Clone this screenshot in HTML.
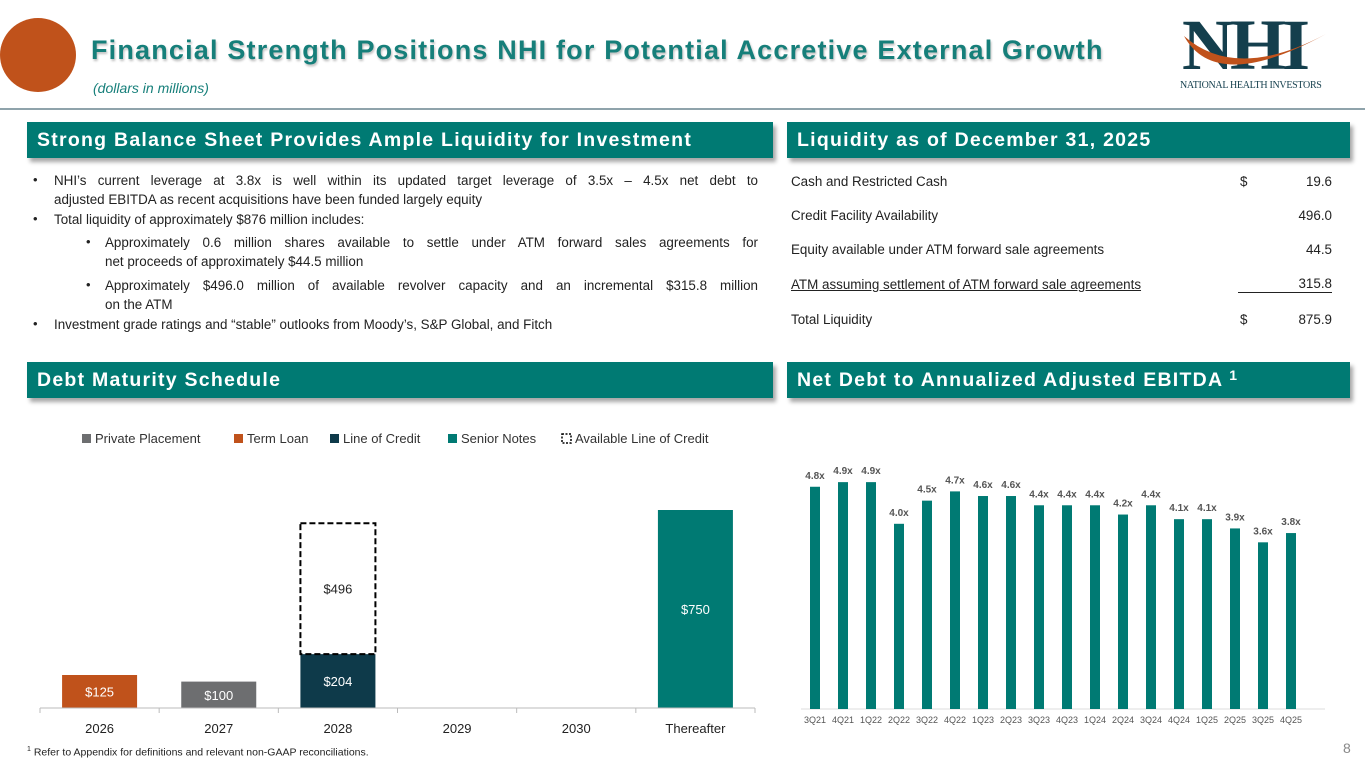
<!DOCTYPE html>
<html><head><meta charset="utf-8"><style>
*{margin:0;padding:0;box-sizing:border-box}
body{width:1365px;height:768px;background:#fff;font-family:"Liberation Sans",sans-serif;position:relative;overflow:hidden;color:#222}
.abs{position:absolute}
.hdr{position:absolute;background:#007a73;color:#fff;font-weight:bold;font-size:19.5px;padding-left:10px;line-height:36px;height:36px;box-shadow:3px 4px 4px rgba(0,0,0,.35);letter-spacing:1.25px;white-space:nowrap}
.ln{position:absolute;font-size:13.4px;white-space:nowrap;line-height:18px}
.j{text-align:justify;text-align-last:justify;white-space:normal}
.bul{position:absolute;font-size:13px}
.row{position:absolute;font-size:13.4px;line-height:18px}
</style></head><body>
<div class="abs" style="left:0;top:18px;width:76px;height:74px;border-radius:50%;background:#c0521b"></div>
<div class="abs" style="left:91px;top:35px;font-size:27px;font-weight:bold;color:#167f7a;letter-spacing:1.18px;text-shadow:1px 2px 2px rgba(0,0,0,.25);white-space:nowrap">Financial Strength Positions NHI for Potential Accretive External Growth</div>
<div class="abs" style="left:93px;top:80px;font-size:14px;font-style:italic;color:#167f7a">(dollars in millions)</div>
<div class="abs" style="left:1176px;top:14px;width:180px;height:80px">
 <div style="position:absolute;left:6px;top:-4px;font-family:'Liberation Serif',serif;font-size:72px;font-weight:bold;color:#143f4d;letter-spacing:-4px;line-height:70px">NHI</div>
 <svg style="position:absolute;left:0;top:10px" width="180" height="60"><path d="M8 12 Q40 70 150 10 Q60 58 8 12Z" fill="#c0521b"/></svg>
 <div style="position:absolute;left:4px;top:66px;font-family:'Liberation Serif',serif;font-size:10px;color:#143f4d;white-space:nowrap;letter-spacing:-0.3px">NATIONAL HEALTH INVESTORS</div>
</div>
<div class="abs" style="left:0;top:108px;width:1365px;height:2px;background:#8fa3ab"></div>

<div class="hdr" style="left:27px;top:122px;width:746px">Strong Balance Sheet Provides Ample Liquidity for Investment</div>
<div class="hdr" style="left:787px;top:122px;width:563px">Liquidity as of December 31, 2025</div>
<div class="hdr" style="left:27px;top:362px;width:746px">Debt Maturity Schedule</div>
<div class="hdr" style="left:787px;top:362px;width:563px">Net Debt to Annualized Adjusted EBITDA <span style="font-size:14px;position:relative;top:-6px">1</span></div>

<div>
<div class="bul" style="left:33px;top:172px">•</div>
<div class="ln j" style="left:54px;top:172px;width:704px">NHI’s current leverage at 3.8x is well within its updated target leverage of 3.5x – 4.5x net debt to</div>
<div class="ln" style="left:54px;top:191px">adjusted EBITDA as recent acquisitions have been funded largely equity</div>
<div class="bul" style="left:33px;top:211px">•</div>
<div class="ln" style="left:54px;top:211px">Total liquidity of approximately $876 million includes:</div>
<div class="bul" style="left:86px;top:234px">•</div>
<div class="ln j" style="left:105px;top:234px;width:653px">Approximately 0.6 million shares available to settle under ATM forward sales agreements for</div>
<div class="ln" style="left:105px;top:253px">net proceeds of approximately $44.5 million</div>
<div class="bul" style="left:86px;top:277px">•</div>
<div class="ln j" style="left:105px;top:277px;width:653px">Approximately $496.0 million of available revolver capacity and an incremental $315.8 million</div>
<div class="ln" style="left:105px;top:296px">on the ATM</div>
<div class="bul" style="left:33px;top:316px">•</div>
<div class="ln" style="left:54px;top:316px">Investment grade ratings and “stable” outlooks from Moody’s, S&amp;P Global, and Fitch</div>
</div>

<div>
<div class="row" style="left:791px;top:173px">Cash and Restricted Cash</div><div class="row" style="left:1240px;top:173px">$</div><div class="row" style="left:1250px;top:173px;width:82px;text-align:right">19.6</div>
<div class="row" style="left:791px;top:207px">Credit Facility Availability</div><div class="row" style="left:1250px;top:207px;width:82px;text-align:right">496.0</div>
<div class="row" style="left:791px;top:241px">Equity available under ATM forward sale agreements</div><div class="row" style="left:1250px;top:241px;width:82px;text-align:right">44.5</div>
<div class="row" style="left:791px;top:276px;text-decoration:underline">ATM assuming settlement of ATM forward sale agreements</div><div class="row" style="left:1238px;top:276px;width:94px;text-align:right;border-bottom:1px solid #222;line-height:16px">315.8</div>
<div class="row" style="left:791px;top:311px">Total Liquidity</div><div class="row" style="left:1240px;top:311px">$</div><div class="row" style="left:1250px;top:311px;width:82px;text-align:right">875.9</div>
</div>

<svg id="debt" class="abs" style="left:0;top:420px" width="780" height="320"></svg>
<svg id="lev" class="abs" style="left:785px;top:440px" width="570" height="300"></svg>

<div class="abs" style="left:27px;top:746px;font-size:10.5px"><sup style="font-size:7px">1</sup> Refer to Appendix for definitions and relevant non-GAAP reconciliations.</div>
<div class="abs" style="left:1343px;top:740px;font-size:14px;color:#888">8</div>

<script>
const NS="http://www.w3.org/2000/svg";
function mk(p,t,a){const e=document.createElementNS(NS,t);for(const k in a)e.setAttribute(k,a[k]);p.appendChild(e);return e;}
// Debt maturity data
const debtYears=["2026","2027","2028","2029","2030","Thereafter"];
const privatePlacement=[0,100,0,0,0,0];
const termLoan=[125,0,0,0,0,0];
const lineOfCredit=[0,0,204,0,0,0];
const seniorNotes=[0,0,0,0,0,750];
const availableLOC=[0,0,496,0,0,0];
const debtSeries=[["Private Placement",privatePlacement,"#6d6e70","#fff"],["Term Loan",termLoan,"#c0521b","#fff"],["Line of Credit",lineOfCredit,"#0e3a4a","#fff"],["Senior Notes",seniorNotes,"#007a73","#fff"]];
// Leverage data
const quarters=["3Q21","4Q21","1Q22","2Q22","3Q22","4Q22","1Q23","2Q23","3Q23","4Q23","1Q24","2Q24","3Q24","4Q24","1Q25","2Q25","3Q25","4Q25"];
const leverage=[4.8,4.9,4.9,4.0,4.5,4.7,4.6,4.6,4.4,4.4,4.4,4.2,4.4,4.1,4.1,3.9,3.6,3.8];

(function(){
 const s=document.getElementById('debt');
 const x0=40,x1=755,base=288,k=0.264,n=debtYears.length,step=(x1-x0)/n,bw=75;
 const X=i=>x0+step*(i+0.5), Y=v=>base-v*k;
 const leg=[["Private Placement","#6d6e70",82],["Term Loan","#c0521b",234],["Line of Credit","#0e3a4a",330],["Senior Notes","#007a73",448]];
 leg.forEach(l=>{const g=mk(s,'g',{});
  
  
  mk(g,'rect',{x:l[2],y:14,width:9,height:9,fill:l[1]});
  const t=mk(g,'text',{x:l[2]+13,y:23,'font-size':13,fill:'#333'});t.textContent=l[0];});
 const g=mk(s,'g',{});
 
 
 mk(g,'rect',{x:562,y:14,width:9,height:9,fill:'none',stroke:'#000','stroke-width':1.5,'stroke-dasharray':'2,1.5'});
 const lt=mk(g,'text',{x:575,y:23,'font-size':13,fill:'#333'});lt.textContent="Available Line of Credit";
 debtYears.forEach((y,i)=>{
  let cum=0;
  debtSeries.forEach(sr=>{const v=sr[1][i];if(!v)return;
   const r=mk(s,'rect',{x:X(i)-bw/2,y:Y(cum+v),width:bw,height:v*k,fill:sr[2]});
   
   
   const t=mk(s,'text',{x:X(i),y:Y(cum+v/2)+5,'font-size':13,fill:sr[3],'text-anchor':'middle'});t.textContent='$'+v;
   cum+=v;});
  const a=availableLOC[i];
  if(a){const r=mk(s,'rect',{x:X(i)-bw/2,y:Y(cum+a),width:bw,height:a*k,fill:'none',stroke:'#000','stroke-width':2,'stroke-dasharray':'6,3'});
   
   
   const t=mk(s,'text',{x:X(i),y:Y(cum+a/2)+5,'font-size':13,fill:'#222','text-anchor':'middle'});t.textContent='$'+a;}
  const tl=mk(s,'text',{x:X(i),y:base+25,'font-size':13,fill:'#222','text-anchor':'middle'});tl.textContent=y;
 });
 mk(s,'line',{x1:x0,y1:base,x2:x1,y2:base,stroke:'#bbb'});
 for(let i=0;i<=n;i++)mk(s,'line',{x1:x0+step*i,y1:base,x2:x0+step*i,y2:base+5,stroke:'#bbb'});
})();

(function(){
 const s=document.getElementById('lev');
 const base=269,k=46.3,x0=16,step=28.0,bw=10;
 const X=i=>30+step*i, Y=v=>base-v*k;
 mk(s,'line',{x1:x0,y1:base,x2:540,y2:base,stroke:'#ddd'});
 quarters.forEach((q,i)=>{
  const r=mk(s,'rect',{x:X(i)-bw/2,y:Y(leverage[i]),width:bw,height:leverage[i]*k,fill:'#007a73'});
  
  
  const t=mk(s,'text',{x:X(i),y:Y(leverage[i])-8,'font-size':10,'font-weight':'bold',fill:'#555','text-anchor':'middle'});t.textContent=leverage[i].toFixed(1)+'x';
  const tl=mk(s,'text',{x:X(i),y:base+14,'font-size':9,fill:'#555','text-anchor':'middle'});tl.textContent=q;
 });
})();
</script>
</body></html>
